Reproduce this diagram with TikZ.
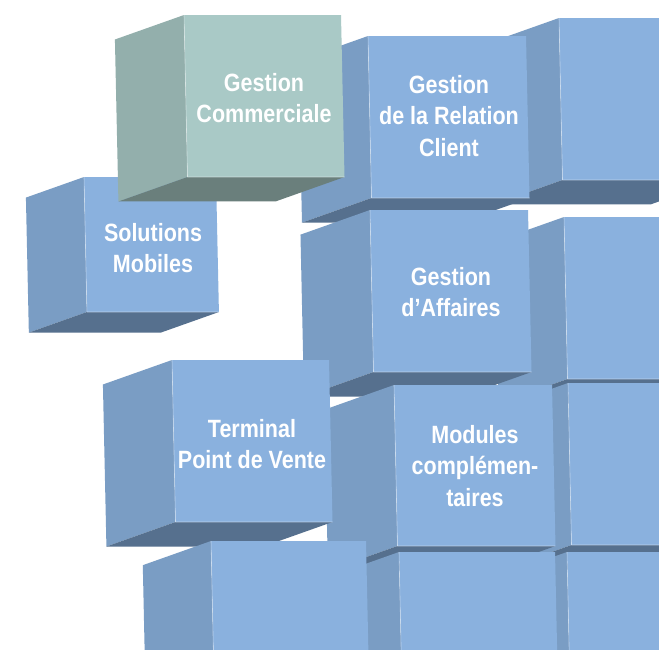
\documentclass[tikz,border=0pt]{standalone}
\usepackage{fontspec}
\newfontfamily\cubefont[FakeStretch=0.86]{Liberation Sans}
\definecolor{bfront}{RGB}{138,177,222}
\definecolor{bside}{RGB}{122,157,196}
\definecolor{bbottom}{RGB}{86,112,142}
\definecolor{gfront}{RGB}{169,201,198}
\definecolor{gside}{RGB}{147,175,172}
\definecolor{gbottom}{RGB}{106,127,124}
\tikzset{
  cubelabel/.style={text=white, align=center, inner sep=0pt,
    font=\cubefont\bfseries\fontsize{25}{31.5}\selectfont},
  cubeedge/.style={white, opacity=0.45, line width=0.6pt}
}
% #1 x, #2 y, #3 width, #4 height, #5 front, #6 side, #7 bottom
\newcommand\blockcube[7]{%
  \begin{scope}[shift={(#1,#2)}]
    \pgfmathsetmacro\cdx{-0.44*#3}%
    \pgfmathsetmacro\cdy{0.156*#3}%
    \pgfmathsetmacro\csh{0.0216*#4}%
    \fill[#6] (0,0) -- ++(\cdx,\cdy) -- ++(\csh,#4) -- (\csh,#4) -- cycle;
    \fill[#7] (\csh,#4) -- ++(\cdx,\cdy) -- ++(#3,0) -- (#3+\csh,#4) -- cycle;
    \fill[#5] (0,0) -- (#3,0) -- (#3+\csh,#4) -- (\csh,#4) -- cycle;
    \draw[cubeedge] (0,0) -- (\csh,#4) -- (#3+\csh,#4);
  \end{scope}}
\begin{document}
\begin{tikzpicture}[x=1pt,y=-1pt]
\useasboundingbox (0,0) rectangle (659,649);
\fill[white] (0,0) rectangle (659,649);
\clip (0,0) rectangle (659,649);
% top row
\blockcube{559}{18}{157}{162}{bfront}{bside}{bbottom}
\blockcube{368}{36}{158}{162}{bfront}{bside}{bbottom}
\node[cubelabel] (grc) at (449,116) {Gestion\\de la Relation\\Client};
\blockcube{84}{177}{132}{135}{bfront}{bside}{bbottom}
\node[cubelabel] (mob) at (153,248) {Solutions\\Mobiles};
\blockcube{184}{15}{157}{162}{gfront}{gside}{gbottom}
\node[cubelabel] (com) at (264,98) {Gestion\\Commerciale};
% middle row
\blockcube{564}{217}{157}{162}{bfront}{bside}{bbottom}
\blockcube{370}{210}{158}{162}{bfront}{bside}{bbottom}
\node[cubelabel] (aff) at (451,292) {Gestion\\d’Affaires};
\blockcube{568}{383}{157}{162}{bfront}{bside}{bbottom}
\blockcube{394}{385}{158}{161}{bfront}{bside}{bbottom}
\node[cubelabel] (mod) at (475,466) {Modules\\complémen-\\taires};
\blockcube{172}{360}{157}{162}{bfront}{bside}{bbottom}
\node[cubelabel] (tpv) at (252,444) {Terminal\\Point de Vente};
% bottom row
\blockcube{567}{552}{157}{162}{bfront}{bside}{bbottom}
\blockcube{399}{552}{156}{162}{bfront}{bside}{bbottom}
\blockcube{211}{541}{155}{162}{bfront}{bside}{bbottom}
\end{tikzpicture}
\end{document}
